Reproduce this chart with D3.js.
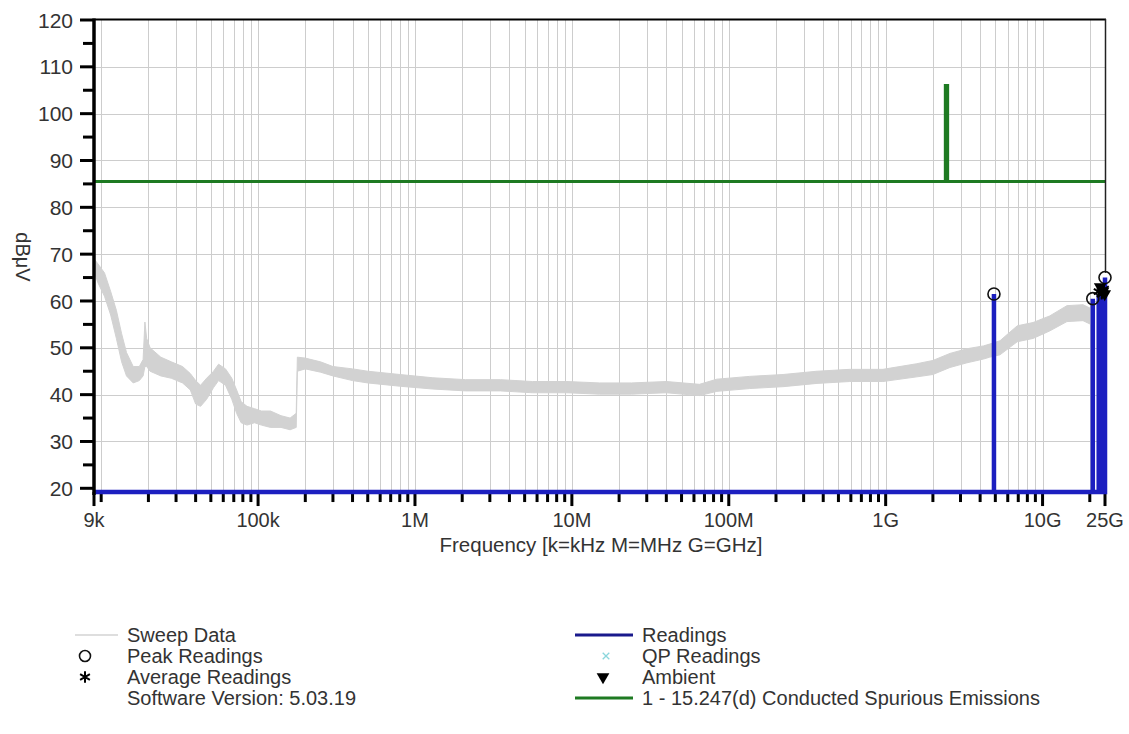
<!DOCTYPE html>
<html><head><meta charset="utf-8">
<script src="https://cdn.jsdelivr.net/npm/d3@7"></script>
<style>
html,body{margin:0;padding:0;background:#fff;}
svg{display:block;font-family:"Liberation Sans",Arial,sans-serif;}
</style></head><body>
<svg id="chart" width="1129" height="734"></svg>
<script>
// ---------- data ----------
const yTickValues = [20,30,40,50,60,70,80,90,100,110,120];
const xTickFreqs  = [9e3,1e5,1e6,1e7,1e8,1e9,1e10,25e9];
const xTickLabels = ["9k","100k","1M","10M","100M","1G","10G","25G"];

// Sweep data envelope (Hz, dBuV low, dBuV high)
const sweepFreq = [9.0e3,9.5e3,10.5e3,11.5e3,12.5e3,13.5e3,14.5e3,16e3,17.5e3,18.5e3,19.0e3,19.5e3,20.5e3,24e3,28e3,33e3,37e3,40e3,43e3,47e3,52e3,56e3,62e3,68e3,73e3,78e3,85e3,95e3,105e3,120e3,140e3,160e3,175e3,178e3,200e3,250e3,300e3,400e3,500e3,800e3,1.3e6,2.1e6,3.5e6,5.6e6,9.3e6,15e6,24e6,40e6,65e6,84e6,136e6,222e6,365e6,590e6,960e6,1.58e9,2.0e9,2.57e9,3.3e9,4.2e9,4.6e9,5.35e9,6.9e9,8.7e9,11.1e9,14.3e9,18.1e9,20.9e9];
const sweepLo   = [66.5,64,61,57,52,47,44,42.5,43,44,46,46,45,44,43.5,42.5,41,38,37.5,39,41.5,43,42,39,36,34,33.5,34,33.5,33,33,32.5,33,45,45.5,44.8,44,43,42.5,41.8,41.2,40.8,40.8,40.4,40.4,40.1,40.1,40.4,39.8,40.7,41.3,41.7,42.4,42.8,42.8,43.8,44.3,45.8,46.8,47.6,48,48.5,51.3,52,53.6,55.6,55.8,54.8];
const sweepHi   = [69,68,66,62,58,53,49,46,46,47.5,55.5,52,50,48,47,46,44.5,43,42,43.5,45,46.5,45.5,43.5,41,38.5,37.5,37,36.5,36.5,35.5,35,36,48,47.8,47,46,45.5,45,44.3,43.6,43.2,43.2,42.8,42.8,42.5,42.5,42.8,42.2,43.3,43.9,44.3,45,45.4,45.4,46.6,47.3,48.8,49.8,50.4,50.8,51.5,54.7,55.4,56.8,59,59.2,58.2];

// Readings (blue)
const readingBase  = 19.2;
const readingFreq  = [4.9e9,20.9e9,22.8e9,23.8e9,24.6e9,25e9];
const readingValue = [61.5,60.5,61.5,62.5,63.5,65];

// Markers
const peakFreq  = [4.9e9,20.9e9,25e9];
const peakValue = [61.5,60.5,65];
const avgFreq   = [22.8e9,23.8e9,24.6e9];
const avgValue  = [62,61.5,62.5];
const ambFreq   = [23.3e9,24.2e9,24.9e9];
const ambValue  = [63,62,61.5];

// Limit line 15.247(d)
const limitFreq  = [9e3,2.4e9,2.4e9,2.4835e9,2.4835e9,25e9];
const limitValue = [85.5,85.5,106,106,85.5,85.5];

// ---------- colours ----------
const C_GRID="#cdcdcd", C_SWEEP="#d2d2d2", C_READ="#1c1fc0", C_LIMIT="#1e7a22", C_TEXT="#333";

// ---------- scales ----------
const svg = d3.select("#chart");
const x = d3.scaleLog().domain([9e3,25e9]).range([94,1105]);
const y = d3.scaleLinear().domain([20,120]).range([488.3,20]);
const plotBottom = y(readingBase);

// grid
const gridFreqs=[];
for(let k=4;k<=10;k++) for(let m=1;m<=9;m++){const f=m*Math.pow(10,k); if(f>9e3&&f<25e9) gridFreqs.push(f);}
svg.append("g").selectAll("line").data(gridFreqs).join("line")
  .attr("x1",d=>Math.round(x(d))+0.5).attr("x2",d=>Math.round(x(d))+0.5)
  .attr("y1",y(120)).attr("y2",plotBottom)
  .attr("stroke",C_GRID).attr("stroke-width",1);
svg.append("g").selectAll("line").data(yTickValues.filter(v=>v>20&&v<120)).join("line")
  .attr("x1",x(9e3)).attr("x2",x(25e9))
  .attr("y1",d=>Math.round(y(d))+0.5).attr("y2",d=>Math.round(y(d))+0.5)
  .attr("stroke",C_GRID).attr("stroke-width",1);

// sweep band
const sweep = sweepFreq.map((f,i)=>({f,lo:sweepLo[i],hi:sweepHi[i]}));
svg.append("path").datum(sweep)
  .attr("d",d3.area().x(d=>x(d.f)).y0(d=>y(d.lo)).y1(d=>y(d.hi)))
  .attr("fill",C_SWEEP).attr("stroke",C_SWEEP).attr("stroke-width",1);

// limit line
const limit = limitFreq.map((f,i)=>({f,v:limitValue[i]}));
svg.append("path").datum(limit)
  .attr("d",d3.line().x(d=>x(d.f)).y(d=>y(d.v)))
  .attr("fill","none").attr("stroke",C_LIMIT).attr("stroke-width",3);

// x ticks (drawn under the readings line)
const xMinor=[9e3,...gridFreqs,25e9];
const isMajor=f=>xTickFreqs.includes(f);
svg.append("g").selectAll("line").data(xMinor).join("line")
  .attr("x1",d=>x(d)).attr("x2",d=>x(d))
  .attr("y1",plotBottom).attr("y2",d=>isMajor(d)?plotBottom+14:plotBottom+10)
  .attr("stroke","#000").attr("stroke-width",3);

// readings stick path
const rpts=[{f:9e3,v:readingBase}];
readingFreq.forEach((f,i)=>{rpts.push({f,v:readingBase},{f,v:readingValue[i]},{f,v:readingBase});});
rpts.push({f:25e9,v:readingBase});
svg.append("path").datum(rpts)
  .attr("d",d3.line().x(d=>x(d.f)).y(d=>y(d.v)))
  .attr("fill","none").attr("stroke",C_READ).attr("stroke-width",4.5).attr("stroke-linejoin","miter");

// frame & axes
svg.append("line").attr("x1",x(9e3)).attr("x2",x(25e9)+1).attr("y1",y(120)-0.5).attr("y2",y(120)-0.5).attr("stroke","#000").attr("stroke-width",2);
svg.append("line").attr("x1",x(25e9)+0.5).attr("x2",x(25e9)+0.5).attr("y1",y(120)-1).attr("y2",y(66)).attr("stroke","#222").attr("stroke-width",1.5);
svg.append("line").attr("x1",x(9e3)).attr("x2",x(9e3)).attr("y1",y(120)-1.5).attr("y2",plotBottom+3).attr("stroke","#000").attr("stroke-width",3.5);

// y ticks
const yMinor=d3.range(20,121,5);
svg.append("g").selectAll("line").data(yMinor).join("line")
  .attr("x1",d=>d%10===0?80:83).attr("x2",x(9e3))
  .attr("y1",d=>y(d)).attr("y2",d=>y(d))
  .attr("stroke","#000").attr("stroke-width",3);
svg.append("g").selectAll("text").data(yTickValues).join("text")
  .attr("x",73).attr("y",d=>y(d)).attr("dy","0.36em")
  .attr("text-anchor","end").attr("font-size",21).attr("fill",C_TEXT).text(d=>d);

svg.append("g").selectAll("text").data(xTickFreqs).join("text")
  .attr("x",d=>x(d)).attr("y",527).attr("text-anchor","middle")
  .attr("font-size",20).attr("fill",C_TEXT).text((d,i)=>xTickLabels[i]);

// axis titles
svg.append("text").attr("x",601).attr("y",552).attr("text-anchor","middle")
  .attr("font-size",20.5).attr("fill",C_TEXT).text("Frequency [k=kHz M=MHz G=GHz]");
svg.append("text").attr("transform","translate(23,257) rotate(90)").attr("text-anchor","middle").attr("dy","0.35em")
  .attr("font-size",20).attr("fill",C_TEXT).text("dBμV");

// markers
const peaks=peakFreq.map((f,i)=>({f,v:peakValue[i]}));
svg.append("g").selectAll("circle").data(peaks).join("circle")
  .attr("cx",d=>x(d.f)).attr("cy",d=>y(d.v)).attr("r",6)
  .attr("fill","none").attr("stroke","#111").attr("stroke-width",1.6);
const avgs=avgFreq.map((f,i)=>({f,v:avgValue[i]}));
svg.append("g").selectAll("path").data(avgs).join("path")
  .attr("transform",d=>`translate(${x(d.f)},${y(d.v)})`)
  .attr("d",d3.symbol(d3.symbolAsterisk,90)).attr("fill","none").attr("stroke","#000").attr("stroke-width",2);
const ambs=ambFreq.map((f,i)=>({f,v:ambValue[i]}));
svg.append("g").selectAll("path").data(ambs).join("path")
  .attr("transform",d=>`translate(${x(d.f)},${y(d.v)}) rotate(180)`)
  .attr("d",d3.symbol(d3.symbolTriangle,70)).attr("fill","#000");

// legend
const legendLeft = ["Sweep Data","Peak Readings","Average Readings","Software Version: 5.03.19"];
const legendRight = ["Readings","QP Readings","Ambient","1 - 15.247(d) Conducted Spurious Emissions"];
const rowBase=[642,663,684,705];
const lg=svg.append("g").attr("font-size",20).attr("fill",C_TEXT);
legendLeft.forEach((t,i)=>lg.append("text").attr("x",127).attr("y",rowBase[i]).text(t));
legendRight.forEach((t,i)=>lg.append("text").attr("x",642).attr("y",rowBase[i]).text(t));
const mid=i=>rowBase[i]-7;
svg.append("line").attr("x1",75).attr("x2",118).attr("y1",mid(0)).attr("y2",mid(0)).attr("stroke","#bdbdbd").attr("stroke-width",1);
svg.append("circle").attr("cx",85).attr("cy",mid(1)).attr("r",5.5).attr("fill","none").attr("stroke","#111").attr("stroke-width",1.6);
svg.append("path").attr("transform",`translate(85,${mid(2)})`).attr("d",d3.symbol(d3.symbolAsterisk,90)).attr("fill","none").attr("stroke","#000").attr("stroke-width",2);
svg.append("line").attr("x1",575).attr("x2",633).attr("y1",mid(0)).attr("y2",mid(0)).attr("stroke","#1a1a8c").attr("stroke-width",3);
svg.append("path").attr("transform",`translate(606,${mid(1)})`).attr("d",d3.symbol(d3.symbolTimes,30)).attr("fill","none").attr("stroke","#8ad6dc").attr("stroke-width",1.3);
svg.append("path").attr("transform",`translate(603,${mid(2)}) rotate(180)`).attr("d",d3.symbol(d3.symbolTriangle,70)).attr("fill","#000");
svg.append("line").attr("x1",575).attr("x2",633).attr("y1",mid(3)).attr("y2",mid(3)).attr("stroke",C_LIMIT).attr("stroke-width",3);
</script>
</body></html>
